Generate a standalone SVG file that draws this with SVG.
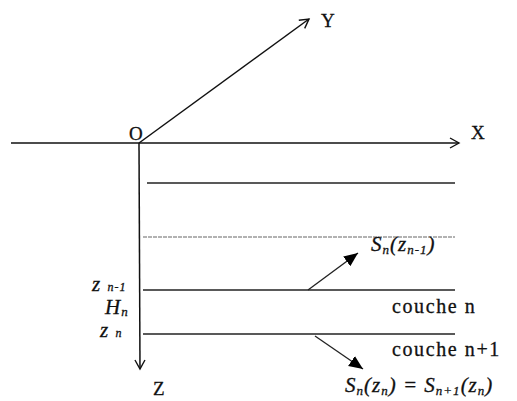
<svg xmlns="http://www.w3.org/2000/svg" width="517" height="401" viewBox="0 0 517 401">
<defs>
<style>
.ax{stroke:#111;stroke-width:1.5;fill:none}
.ln{stroke:#222;stroke-width:1.3;fill:none}
.lt{stroke:#666;stroke-width:1.1;fill:none;stroke-dasharray:4 1}
.t{font-family:"Liberation Serif",serif;font-size:19px;fill:#111;stroke:#111;stroke-width:0.3}
.c{font-family:"Liberation Serif",serif;font-size:20px;letter-spacing:1.6px;fill:#111;stroke:#111;stroke-width:0.3}
.i{font-family:"Liberation Serif",serif;font-style:italic;font-size:21px;letter-spacing:1px;fill:#111;stroke:#111;stroke-width:0.3}
.s{font-size:13px}
</style>
<marker id="open" markerWidth="12" markerHeight="12" refX="10" refY="6" orient="auto" markerUnits="userSpaceOnUse">
<path d="M1,1 L10,6 L1,11" fill="none" stroke="#111" stroke-width="1.4"/>
</marker>
<marker id="fill" markerWidth="16" markerHeight="14" refX="14" refY="7" orient="auto" markerUnits="userSpaceOnUse">
<path d="M0,1 L14,7 L0,13 Z" fill="#000"/>
</marker>
</defs>
<rect width="517" height="401" fill="#fff"/>
<g id="axes">
<line class="ax" x1="11" y1="143" x2="459" y2="143" marker-end="url(#open)"/>
<line class="ax" x1="139" y1="143" x2="309" y2="19" marker-end="url(#open)"/>
<line class="ax" x1="139" y1="143" x2="140" y2="369" marker-end="url(#open)"/>
</g>
<g id="layers">
<line class="ln" x1="147" y1="183" x2="455" y2="183"/>
<line class="lt" x1="143" y1="237" x2="455" y2="237"/>
<line class="ln" x1="143" y1="290" x2="455" y2="290"/>
<line class="ln" x1="143" y1="334" x2="455" y2="334" stroke="#444"/>
</g>
<g id="connectors">
<line class="ln" x1="308" y1="290" x2="358" y2="253" marker-end="url(#fill)"/>
<line class="ln" x1="315" y1="336" x2="363" y2="369" marker-end="url(#fill)"/>
</g>
<g id="labels">
<text class="t" x="129" y="140">O</text>
<text class="t" x="471" y="139">X</text>
<text class="t" x="321" y="27">Y</text>
<text class="t" x="153" y="395">Z</text>
<text class="i" x="371" y="251" letter-spacing="1.6">S<tspan class="s" dy="3">n</tspan><tspan dy="-3">(z</tspan><tspan class="s" dy="3">n-1</tspan><tspan dy="-3">)</tspan></text>
<text class="c" x="392" y="313">couche n</text>
<text class="c" x="392" y="356">couche n+1</text>
<text class="i" x="345" y="392">S<tspan class="s" dy="3">n</tspan><tspan dy="-3">(z</tspan><tspan class="s" dy="3">n</tspan><tspan dy="-3">) = S</tspan><tspan class="s" dy="3">n+1</tspan><tspan dy="-3">(z</tspan><tspan class="s" dy="3">n</tspan><tspan dy="-3">)</tspan></text>
<text class="i" x="92" y="291" font-size="16">z <tspan font-size="12">n-1</tspan></text>
<text class="i" x="105" y="314" font-size="19">H<tspan class="s" dy="2">n</tspan></text>
<text class="i" x="100" y="337" font-size="16">z <tspan font-size="12">n</tspan></text>
</g>
</svg>
